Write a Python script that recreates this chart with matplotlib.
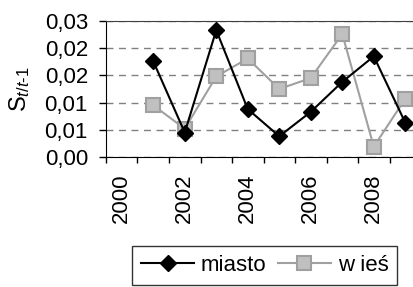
import numpy as np
import matplotlib
matplotlib.use('Agg')
import matplotlib.pyplot as plt
from matplotlib.ticker import FixedLocator, FixedFormatter

plt.rcParams['font.family'] = ['Liberation Sans', 'DejaVu Sans']
plt.rcParams['mathtext.fontset'] = 'custom'
plt.rcParams['mathtext.rm'] = 'Liberation Sans'
plt.rcParams['mathtext.it'] = 'Liberation Sans:italic'

# Dane
lata = [2000, 2001, 2002, 2003, 2004, 2005, 2006, 2007, 2008, 2009]
miasto = [np.nan, 0.0176, 0.0045, 0.0233, 0.0088, 0.0038, 0.0083, 0.0138, 0.0185, 0.0063]
wies = [np.nan, 0.0095, 0.0052, 0.0148, 0.0181, 0.0125, 0.0145, 0.0226, 0.0019, 0.0107]
y_ticks = [0.0, 0.005, 0.010, 0.015, 0.020, 0.025]
y_tick_labels = ['0,00', '0,01', '0,01', '0,02', '0,02', '0,03']

fig = plt.figure(figsize=(4.14, 2.87), dpi=100)
ax = fig.add_axes([0.256, 0.453, 0.761, 0.474])

x = np.arange(len(lata))
ax.plot(x, miasto, color='black', lw=1.5, marker='D', markersize=8,
        markerfacecolor='black', markeredgecolor='black', label='miasto', zorder=3)
ax.plot(x, wies, color='#a0a0a0', lw=1.5, marker='s', markersize=9.5,
        markerfacecolor='#c0c0c0', markeredgecolor='#a0a0a0', markeredgewidth=1.5,
        label='w ieś', zorder=2)

ax.set_xlim(-0.5, len(lata) - 0.5)
ax.set_ylim(0, 0.025)

# Oś Y
ax.yaxis.set_major_locator(FixedLocator(y_ticks))
ax.yaxis.set_major_formatter(FixedFormatter(y_tick_labels))
ax.tick_params(axis='y', length=5, width=1, pad=8, labelsize=16, direction='out')
ax.yaxis.grid(True, color='#808080', linestyle=(0, (5, 4)), lw=1)
ax.set_axisbelow(True)

# Oś X - etykiety co dwa lata, znaczniki między kategoriami
ax.set_xticks(x[::2])
ax.set_xticklabels([str(r) for r in lata[::2]], rotation=90, fontsize=16)
ax.set_xticks(np.arange(-0.5, len(lata)), minor=True)
ax.tick_params(axis='x', which='major', length=0, pad=12)
ax.tick_params(axis='x', which='minor', length=4, width=1, direction='out')

ax.spines['right'].set_visible(False)
ax.spines['top'].set_color('#404040')
for s in ['left', 'bottom']:
    ax.spines[s].set_color('black')

ax.set_ylabel(r'$\mathrm{S}_{\mathit{t/t}\mathrm{\text{-}1}}$', fontsize=17)
ax.yaxis.set_label_coords(-0.235, 0.5)

leg = fig.legend(loc='upper left', bbox_to_anchor=(132 / 414, 1 - 246 / 287),
                 ncol=2, fontsize=16, frameon=True, fancybox=False,
                 edgecolor='black', handlelength=2.4, columnspacing=0.5,
                 handletextpad=0.3, borderpad=0.4, borderaxespad=0)
leg.get_frame().set_linewidth(1)

fig.savefig('out.png', dpi=100)
